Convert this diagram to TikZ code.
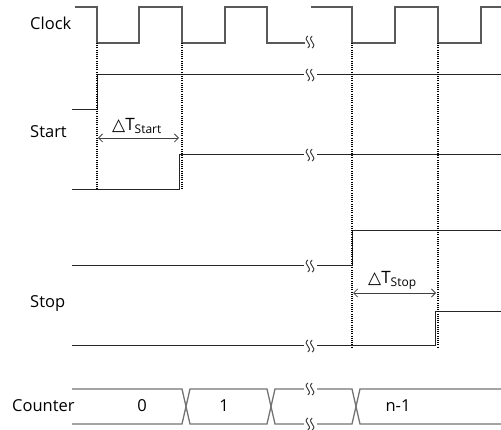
\documentclass[tikz,border=0pt]{standalone}
\usepackage{fontspec}
\setmainfont{Open Sans}
\newfontfamily\symf{DejaVu Sans}
\usetikzlibrary{arrows.meta}
\begin{document}
\begin{tikzpicture}[x=1pt,y=-1pt,
 sig/.style={line width=1pt, black!85},
 clk/.style={line width=1.3pt, black!65},
 cnt/.style={line width=1.3pt, black!55},
 dots/.style={line width=1.3pt, dash pattern=on 1.1pt off 1.1pt},
 dim/.style={line width=0.8pt, black!75, {Straight Barb[length=4pt,width=8pt]}-{Straight Barb[length=4pt,width=8pt]}},
 lbl/.style={font=\fontsize{16.5}{19}\selectfont, inner sep=0, anchor=base west},
 num/.style={font=\fontsize{16.5}{19}\selectfont, inner sep=0, anchor=base},
 brk/.pic={
   \draw[line width=1pt, black!75] (-2.2,-6) .. controls (-8,-1.5) and (3.6,1.5) .. (-2.2,6);
   \draw[line width=1pt, black!75] (2.2,-6) .. controls (-3.6,-1.5) and (8,1.5) .. (2.2,6);
 }
]
\useasboundingbox (0,0) rectangle (501,430);
% labels
\node[lbl] (lclk) at (30,30) {Clock};
\node[lbl] (lstart) at (30,138) {Start};
\node[lbl] (lstop) at (30,308) {Stop};
\node[lbl] (lcnt) at (12,412) {Counter};
% clock
\draw[clk] (75,7) -- (97,7) -- (97,43) -- (139,43) -- (139,7) -- (182,7) -- (182,43) -- (225,43) -- (225,7) -- (267,7) -- (267,43) -- (305,43);
\pic at (310,42) {brk};
\draw[clk] (311,7) -- (352,7) -- (352,43) -- (395,43) -- (395,7) -- (438,7) -- (438,43) -- (481,43) -- (481,7) -- (501,7);
% start
\draw[sig] (72,110) -- (97,110) -- (97,75) -- (304,75);
\draw[sig] (317,75) -- (501,75);
\pic at (310,75) {brk};
\draw[sig] (72,190) -- (179,190) -- (179,155) -- (304,155);
\draw[sig] (317,155) -- (501,155);
\pic at (310,155) {brk};
% stop
\draw[sig] (72,266) -- (304,266);
\draw[sig] (317,266) -- (352,266) -- (352,231) -- (501,231);
\pic at (310,266) {brk};
\draw[sig] (72,346) -- (304,346);
\draw[sig] (317,346) -- (435,346) -- (435,312) -- (501,312);
\pic at (310,346) {brk};
% dotted
\draw[dots] (97,43) -- (97,190);
\draw[dots] (182,43) -- (182,190);
\draw[dots] (352,43) -- (352,347);
\draw[dots] (438,43) -- (438,348);
% dimensions
\coordinate (s1) at (98,138);
\coordinate (s2) at (179,138);
\draw[dim] (s1) -- (s2);
\node[lbl, font=\fontsize{17}{19}\selectfont] (dts) at (112,131) {{\symf △}T\raisebox{-2.5pt}{\fontsize{12}{13}\selectfont Start}};
\coordinate (t1) at (353,293);
\coordinate (t2) at (436,293);
\draw[dim] (t1) -- (t2);
\node[lbl, font=\fontsize{17}{19}\selectfont] (dtp) at (368,284) {{\symf △}T\raisebox{-2.5pt}{\fontsize{12}{13}\selectfont Stop}};
% counter
\draw[cnt] (72,389) -- (182,389) -- (190,424) -- (267,424) -- (275,389) -- (304,389);
\draw[cnt] (72,424) -- (182,424) -- (190,389) -- (267,389) -- (275,424) -- (304,424);
\pic at (310,389) {brk};
\pic at (310,424) {brk};
\draw[cnt] (317,389) -- (352,389) -- (360,424) -- (501,424);
\draw[cnt] (317,424) -- (352,424) -- (360,389) -- (501,389);
\node[num] (c0) at (142,412) {0};
\node[num] (c1) at (224,412) {1};
\node[num] (cn) at (398,412) {n-1};
\end{tikzpicture}
\end{document}
